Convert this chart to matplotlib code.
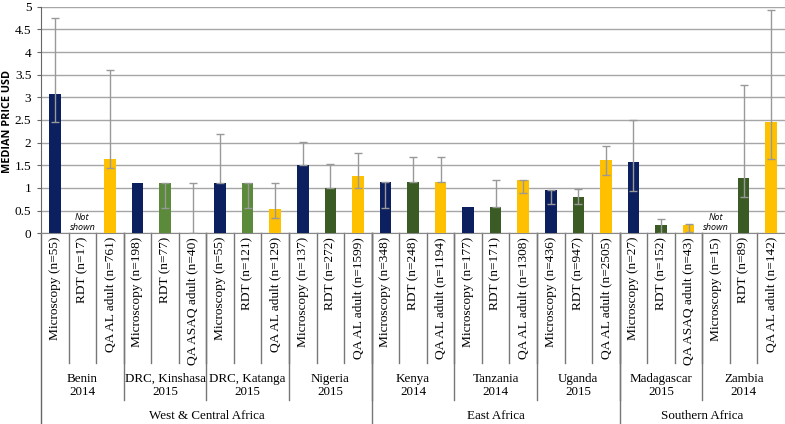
import numpy as np
import matplotlib
matplotlib.use("Agg")
import matplotlib.pyplot as plt

categories = [
    "Microscopy (n=55)", "RDT (n=17)", "QA AL adult (n=761)",
    "Microscopy (n=198)", "RDT (n=77)", "QA ASAQ adult (n=40)",
    "Microscopy (n=55)", "RDT (n=121)", "QA AL adult (n=129)",
    "Microscopy (n=137)", "RDT (n=272)", "QA AL adult (n=1599)",
    "Microscopy (n=348)", "RDT (n=248)", "QA AL adult (n=1194)",
    "Microscopy (n=177)", "RDT (n=171)", "QA AL adult (n=1308)",
    "Microscopy (n=436)", "RDT (n=947)", "QA AL adult (n=2505)",
    "Microscopy (n=27)", "RDT (n=152)", "QA ASAQ adult (n=43)",
    "Microscopy (n=15)", "RDT (n=89)", "QA AL adult (n=142)",
]
countries = ["Benin\n2014", "DRC, Kinshasa\n2015", "DRC, Katanga\n2015", "Nigeria\n2015",
             "Kenya\n2014", "Tanzania\n2014", "Uganda\n2015", "Madagascar\n2015", "Zambia\n2014"]
country_sizes = [3, 3, 3, 3, 3, 3, 3, 3, 3]
regions = ["West & Central Africa", "East Africa", "Southern Africa"]
region_sizes = [12, 9, 6]

nan = np.nan
median = [3.08, nan, 1.64,
          1.10, 1.10, 0.0,
          1.10, 1.10, 0.54,
          1.51, 1.01, 1.27,
          1.13, 1.13, 1.13,
          0.58, 0.58, 1.17,
          0.96, 0.80, 1.61,
          1.57, 0.18, 0.18,
          nan, 1.21, 2.45]
err_low = [2.46, nan, 1.43,
           nan, 0.55, 0.0,
           1.10, 0.55, 0.33,
           1.51, 1.01, 1.01,
           0.56, 1.13, 1.13,
           nan, 0.58, 0.88,
           0.65, 0.65, 1.29,
           0.94, 0.0, 0.03,
           nan, 0.81, 1.63]
err_high = [4.74, nan, 3.60,
            nan, 1.10, 1.10,
            2.19, 1.10, 1.10,
            2.02, 1.52, 1.78,
            1.13, 1.69, 1.69,
            nan, 1.17, 1.17,
            0.96, 0.97, 1.93,
            2.51, 0.31, 0.21,
            nan, 3.27, 4.92]
not_shown = [1, 24]

NAVY = "#0C1F5E"
LGREEN = "#5A8A3A"
DGREEN = "#3B5B25"
YELLOW = "#FFC000"
colors = [NAVY, DGREEN, YELLOW] * 9
colors[4] = LGREEN
colors[7] = LGREEN

W, H = 785, 424
fig = plt.figure(figsize=(W / 100, H / 100), dpi=100)
ax_left, ax_right, ax_top, ax_bot = 41, 785, 6.7, 233.3
ax = fig.add_axes([ax_left / W, 1 - ax_bot / H, (ax_right - ax_left) / W, (ax_bot - ax_top) / H])

n = len(categories)
x = np.arange(n)
vals = np.array(median, dtype=float)
ax.bar(x, np.nan_to_num(vals), width=0.42, color=colors, zorder=3)

lo = np.array(err_low, dtype=float)
hi = np.array(err_high, dtype=float)
mask = ~np.isnan(lo)
ax.errorbar(x[mask], vals[mask], yerr=[vals[mask] - lo[mask], hi[mask] - vals[mask]],
            fmt="none", ecolor="#999999", elinewidth=1.0, capsize=3, capthick=1.0, zorder=4)

for i in not_shown:
    ax.text(i, 0.24, "Not\nshown", ha="center", va="center", fontsize=6.5,
            style="italic", family="Open Sans", linespacing=1.1, zorder=5)

ax.set_xlim(-0.5, n - 0.5)
ax.set_ylim(0, 5)
ax.set_yticks(np.arange(0, 5.01, 0.5))
ax.set_yticklabels(["0", "0.5", "1", "1.5", "2", "2.5", "3", "3.5", "4", "4.5", "5"],
                   family="Liberation Serif", fontsize=9.5)
ax.yaxis.grid(True, color="#A6A6A6", linewidth=1.0, zorder=0)
ax.set_axisbelow(True)
ax.set_xticks([])
for s in ["top", "right"]:
    ax.spines[s].set_visible(False)
ax.spines["left"].set_color("#666666")
ax.spines["bottom"].set_color("#888888")
ax.tick_params(axis="y", length=3, color="#666666", pad=4)

fig.text(8 / W, 1 - 121 / H, "MEDIAN PRICE USD", rotation=90, ha="center", va="center",
         fontsize=7.8, fontweight="bold", family="Open Sans")

ah = ax_bot - ax_top
def fy(py):
    return -(py - ax_bot) / ah

tr = ax.get_xaxis_transform()
lc = "#777777"
# category labels
for i, lab in enumerate(categories):
    ax.text(i, fy(237), lab, rotation=90, ha="center", va="top", fontsize=9.6,
            family="Liberation Serif", transform=tr, clip_on=False)
# small separators
for i in range(1, n):
    ax.plot([i - 0.5, i - 0.5], [0, fy(363)], color=lc, lw=1, transform=tr, clip_on=False)
# country separators and labels
pos = 0
for c, s in zip(countries, country_sizes):
    ax.text(pos + (s - 1) / 2, fy(385.5), c, ha="center", va="center", fontsize=9.4,
            family="Liberation Serif", transform=tr, clip_on=False, linespacing=1.2)
    pos += s
    if pos < n:
        ax.plot([pos - 0.5, pos - 0.5], [0, fy(400)], color=lc, lw=1, transform=tr, clip_on=False)
# region separators and labels
pos = 0
for r, s in zip(regions, region_sizes):
    ax.text(pos + (s - 1) / 2, fy(416), r, ha="center", va="center", fontsize=9.4,
            family="Liberation Serif", transform=tr, clip_on=False)
    pos += s
    if pos < n:
        ax.plot([pos - 0.5, pos - 0.5], [0, fy(430)], color=lc, lw=1, transform=tr, clip_on=False)
ax.plot([-0.5, -0.5], [0, fy(430)], color="#666666", lw=1, transform=tr, clip_on=False)

fig.savefig("out.png", dpi=100)
